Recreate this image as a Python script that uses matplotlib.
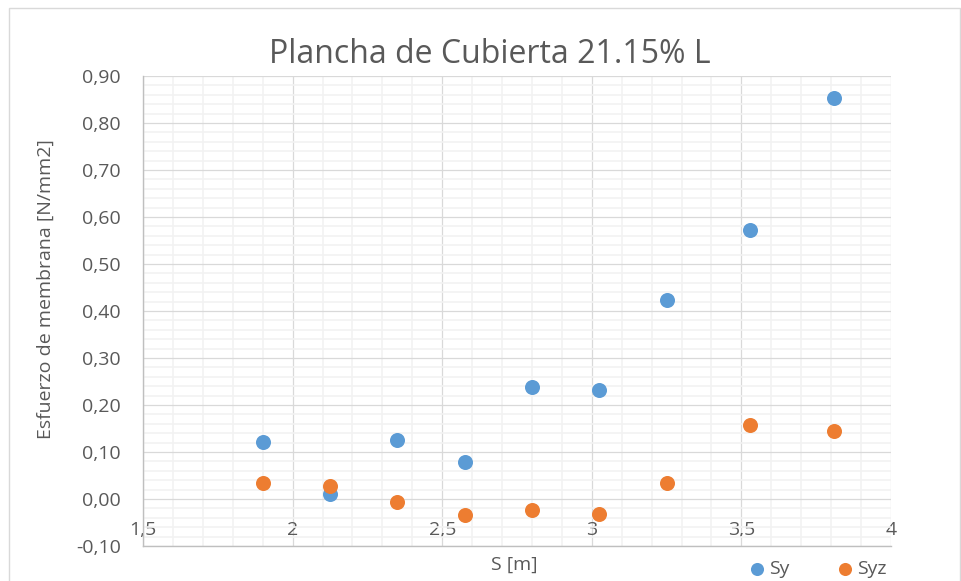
import matplotlib
matplotlib.use("Agg")
import matplotlib.pyplot as plt
from matplotlib.ticker import MultipleLocator
from matplotlib.patches import Rectangle

# S [m] positions
s = [1.9, 2.125, 2.35, 2.575, 2.8, 3.025, 3.25, 3.53, 3.81]
# esfuerzos de membrana [N/mm2]
sy = [0.121, 0.010, 0.125, 0.079, 0.239, 0.232, 0.424, 0.572, 0.853]
syz = [0.034, 0.028, -0.006, -0.034, -0.023, -0.032, 0.034, 0.157, 0.145]

x_ticks = [1.5, 2.0, 2.5, 3.0, 3.5, 4.0]
x_tick_labels = ["1,5", "2", "2,5", "3", "3,5", "4"]
y_ticks = [-0.10, 0.00, 0.10, 0.20, 0.30, 0.40, 0.50, 0.60, 0.70, 0.80, 0.90]
y_tick_labels = ["-0,10", "0,00", "0,10", "0,20", "0,30", "0,40",
                 "0,50", "0,60", "0,70", "0,80", "0,90"]

TXT = "#595959"
plt.rcParams["font.family"] = ["Open Sans", "DejaVu Sans"]

fig = plt.figure(figsize=(9.62, 5.81), dpi=100)
ax = fig.add_axes([143 / 962, 1 - 546 / 581, 748 / 962, 470 / 581])

ax.scatter(s, sy, s=117, color="#5B9BD5", label="Sy", zorder=3, linewidths=0)
ax.scatter(s, syz, s=117, color="#ED7D31", label="Syz", zorder=3, linewidths=0)

ax.set_xlim(1.5, 4.0)
ax.set_ylim(-0.10, 0.90)
ax.set_xticks(x_ticks)
ax.set_xticklabels(x_tick_labels)
ax.set_yticks(y_ticks)
ax.set_yticklabels(y_tick_labels)
ax.xaxis.set_minor_locator(MultipleLocator(0.1))
ax.yaxis.set_minor_locator(MultipleLocator(0.02))

ax.grid(which="minor", color="#F2F2F2", linewidth=1.2, zorder=0)
ax.grid(which="major", color="#D9D9D9", linewidth=0.9, zorder=1)
ax.set_axisbelow(True)

ax.tick_params(which="both", length=0)
ax.tick_params(axis="y", labelsize=14, labelcolor=TXT, pad=16)
ax.tick_params(axis="x", labelsize=14, labelcolor=TXT, pad=-18)

for side in ["top", "right"]:
    ax.spines[side].set_visible(False)
for side in ["left", "bottom"]:
    ax.spines[side].set_color("#BFBFBF")
    ax.spines[side].set_linewidth(1.0)

# title centred over the whole chart area
fig.text(490 / 962, 1 - 63 / 581, "Plancha de Cubierta 21.15% L",
         fontsize=23, color=TXT, ha="center", va="baseline")
ax.set_xlabel("S [m]", fontsize=14, color=TXT)
ax.xaxis.set_label_coords(0.497, -0.02)
ax.set_ylabel("Esfuerzo de membrana [N/mm2]", fontsize=14, color=TXT)
ax.yaxis.set_label_coords(-0.118, 0.547)

leg = fig.legend(loc="center", bbox_to_anchor=(817 / 962, 1 - 569 / 581),
                 ncol=2, frameon=False, fontsize=14, markerscale=0.87,
                 handletextpad=0.1, columnspacing=2.4, handlelength=1.0)
for t in leg.get_texts():
    t.set_color(TXT)

# chart border
fig.patches.append(Rectangle((9 / 962, -0.01), 951 / 962, 1 - 8 / 581 + 0.01,
                             transform=fig.transFigure, fill=False,
                             edgecolor="#D9D9D9", linewidth=1.0))

fig.savefig("out.png", dpi=100)
